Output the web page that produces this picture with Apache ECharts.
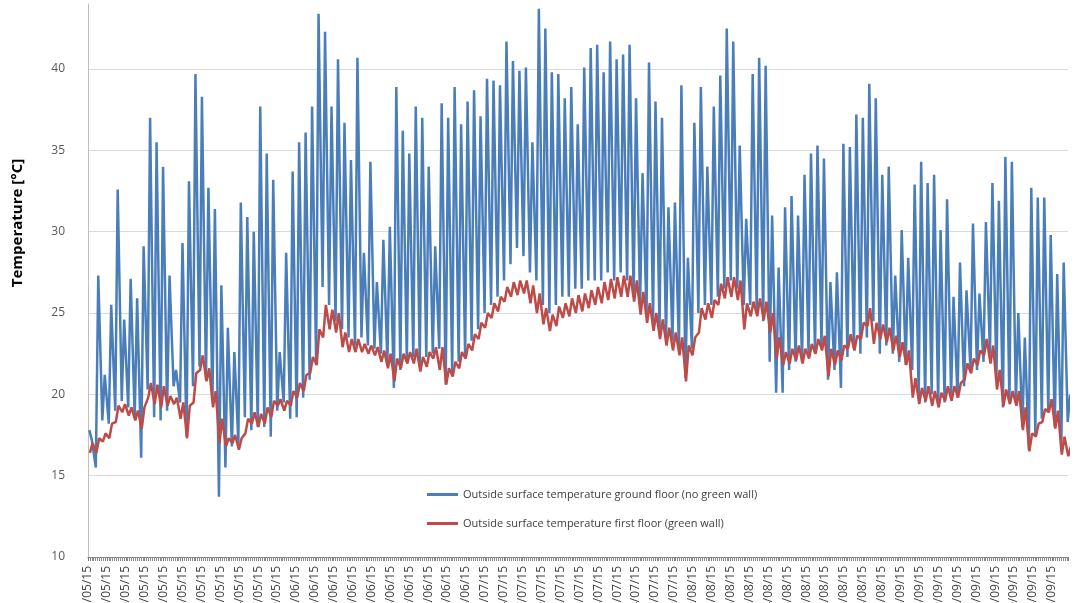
<!DOCTYPE html>
<html>
<head>
<meta charset="utf-8">
<script src="https://cdn.jsdelivr.net/npm/echarts@6/dist/echarts.min.js"></script>
<style>html,body{margin:0;padding:0;background:#fff}#c{width:1074px;height:603px}</style>
</head>
<body>
<div id="c"></div>
<script>
// Daily values, day 0 = 01/05/2015
const seriesNames = [
  'Outside surface temperature ground floor (no green wall)',
  'Outside surface temperature first floor (green wall)'
];
const blueMax = [
  17.2,27.3,21.2,25.5,32.6,24.6,27.1,25.9,29.1,37.0,
  35.5,34.0,27.3,21.5,29.3,33.1,39.7,38.3,32.7,31.4,
  26.7,24.1,22.6,31.8,30.9,30.0,37.7,34.8,33.2,22.6,
  28.7,33.7,35.5,36.1,37.7,43.4,42.3,37.7,40.6,36.7,
  34.4,40.7,28.7,34.3,26.9,29.5,30.3,38.9,36.2,34.8,
  37.7,37.0,34.0,29.1,37.9,37.0,38.9,36.6,38.0,38.7,
  37.1,39.4,39.3,39.0,41.7,40.5,39.9,40.1,35.5,43.7,
  42.5,39.8,39.7,38.2,38.9,36.6,40.1,41.3,41.5,39.8,
  41.7,40.6,40.9,41.5,38.2,33.6,40.4,38.0,37.0,31.5,
  31.8,39.0,28.4,36.7,38.9,34.0,37.7,39.6,42.5,41.7,
  35.3,30.8,39.7,40.7,40.2,31.0,27.8,31.5,32.2,31.0,
  33.5,34.8,35.3,34.5,26.9,27.5,35.4,35.2,37.2,37.0,
  39.1,38.2,33.5,34.0,27.3,30.1,28.4,32.9,34.3,33.0,
  33.5,30.1,32.0,26.0,28.1,26.4,30.5,26.2,30.6,33.0,
  31.9,34.6,34.3,25.0,23.5,32.7,32.1,32.1,29.8,27.4,
  28.1,20.0
];
const blueMin = [
  17.8,15.5,18.4,18.2,19.0,19.6,19.2,18.6,16.1,20.3,
  18.6,18.4,19.0,20.5,19.5,17.4,20.5,21.7,20.9,19.6,
  13.7,15.5,16.8,17.0,18.6,17.8,18.0,18.0,17.4,19.0,
  19.5,18.5,18.6,19.8,20.9,21.9,26.6,25.5,24.5,24.0,
  23.5,23.0,23.5,23.0,22.8,22.5,22.0,20.4,21.5,22.0,
  22.3,21.8,22.3,22.5,22.8,20.6,21.3,22.0,22.3,23.3,
  24.0,25.0,25.5,26.0,27.0,28.0,29.0,28.5,27.5,27.0,
  25.5,25.0,25.5,26.0,26.0,26.5,26.5,27.0,27.0,27.0,
  27.5,27.0,27.5,27.0,26.0,25.5,25.0,24.5,24.0,23.5,
  23.3,22.8,21.0,22.8,25.0,25.5,25.5,26.0,26.5,27.0,
  26.5,25.5,25.5,25.0,24.5,22.0,20.1,20.1,21.5,22.0,
  22.0,22.5,22.5,22.8,20.9,21.5,20.4,22.3,22.8,22.5,
  23.5,24.5,22.5,23.0,22.5,22.0,21.8,21.5,19.8,19.5,
  20.0,19.5,19.5,20.0,19.8,20.5,21.5,21.5,22.0,22.5,
  21.0,19.2,19.5,19.5,18.0,16.6,17.5,18.5,19.0,18.0,
  16.5,18.3
];
const redMax = [
  17.0,17.3,17.6,18.2,19.3,19.4,19.2,19.0,19.2,20.7,
  20.6,20.5,19.9,19.8,19.5,19.3,21.3,22.4,21.6,20.2,
  18.5,17.3,17.5,17.3,18.5,18.9,18.8,19.2,19.6,19.7,
  19.6,20.2,20.7,21.2,22.3,24.0,25.5,25.2,25.0,23.8,
  23.4,23.4,23.1,23.0,22.9,22.7,22.5,22.2,22.5,22.6,
  22.8,22.3,22.6,22.9,22.9,21.6,22.0,22.6,23.1,23.7,
  24.4,25.0,25.6,26.0,26.6,26.9,27.0,27.0,26.7,26.2,
  25.3,24.9,25.4,25.6,25.9,26.1,26.2,26.4,26.6,26.9,
  27.1,27.2,27.3,27.3,27.0,26.3,25.6,25.0,24.6,24.1,
  23.8,23.5,23.0,23.5,25.3,25.6,25.8,26.8,27.2,27.2,
  27.0,25.6,25.7,25.9,25.7,25.0,23.5,22.6,22.8,23.0,
  22.8,23.1,23.4,23.6,22.8,22.7,23.0,23.7,23.6,24.4,
  25.3,24.4,24.3,24.1,23.6,23.2,22.7,21.0,20.4,20.5,
  20.2,20.1,20.5,20.5,20.7,21.9,22.2,22.7,23.4,23.0,
  21.5,20.3,20.2,20.2,19.2,17.6,18.2,19.1,19.7,19.0,
  17.4,16.8
];
const redMin = [
  16.4,16.4,17.1,17.3,18.3,18.9,18.7,18.4,17.9,19.8,
  19.4,19.2,19.3,19.4,18.5,17.3,19.5,21.5,20.8,19.2,
  17.0,16.8,17.0,16.6,17.6,18.2,18.0,18.2,18.6,19.3,
  19.0,19.3,19.8,20.2,21.3,21.8,23.5,24.0,23.8,22.9,
  22.6,22.6,22.6,22.5,22.4,22.0,21.6,20.8,21.6,21.9,
  21.9,21.4,21.7,22.2,21.5,20.6,21.1,21.6,22.2,22.7,
  23.4,24.1,24.7,25.1,25.7,26.0,26.1,26.2,25.6,25.0,
  24.3,23.9,24.2,24.7,24.8,25.0,25.1,25.3,25.5,25.6,
  25.8,25.9,26.0,26.0,25.7,24.9,24.4,23.9,23.4,23.0,
  22.7,22.4,20.8,22.4,23.8,24.6,24.7,25.5,25.9,26.0,
  25.8,24.0,24.8,24.8,24.6,23.8,22.2,21.8,21.9,22.1,
  21.9,22.2,22.5,22.7,21.1,21.8,22.1,22.8,22.7,23.4,
  24.2,23.1,23.4,23.2,22.7,22.3,21.8,19.8,19.4,19.6,
  19.3,19.2,19.6,19.6,19.8,20.9,21.3,21.8,22.4,21.9,
  20.3,19.3,19.4,19.3,17.8,16.5,17.4,18.3,18.9,17.9,
  16.3,16.2
];
const yTicks = [10, 15, 20, 25, 30, 35, 40];

// build [hour, value] pairs (min early morning, max afternoon)
const blueData = [], redData = [];
for (let d = 0; d < blueMax.length; d++) {
  blueData.push([d * 24 + 5, blueMin[d]], [d * 24 + 14, blueMax[d]]);
  redData.push([d * 24 + 7, redMin[d]], [d * 24 + 17, redMax[d]]);
}

function fmtDate(h) {
  const t = new Date(Date.UTC(2015, 4, 1) + Math.floor(h / 24) * 86400000);
  const dd = String(t.getUTCDate()).padStart(2, '0');
  const mm = String(t.getUTCMonth() + 1).padStart(2, '0');
  return dd + '/' + mm + '/15';
}

const chart = echarts.init(document.getElementById('c'), null, {renderer: 'canvas'});
chart.setOption({
  animation: false,
  backgroundColor: '#ffffff',
  grid: {left: 88, right: 6, top: 4, bottom: 46, containLabel: false, outerBoundsMode: 'none'},
  legend: {
    orient: 'vertical', left: 422, top: 484,
    icon: 'rect', itemWidth: 31, itemHeight: 3, itemGap: 18,
    textStyle: {fontFamily: 'Open Sans', fontSize: 11, color: '#404040'},
    data: seriesNames
  },
  graphic: [{
    type: 'text', x: 18, y: 223, rotation: Math.PI / 2,
    style: {text: 'Temperature [°C]', fontFamily: 'Open Sans', fontWeight: 'bold',
            fontSize: 15, fill: '#000', align: 'center', verticalAlign: 'middle'}
  }],
  xAxis: {
    type: 'value', min: 0, max: 3630, interval: 70,
    axisLine: {show: true, lineStyle: {color: '#7f7f7f', width: 1}},
    axisTick: {show: true, length: 4, lineStyle: {color: '#7f7f7f'}},
    minorTick: {show: true, splitNumber: 10, length: 4, lineStyle: {color: '#8c8c8c'}},
    splitLine: {show: false},
    axisLabel: {
      rotate: 90, margin: 9, fontFamily: 'Open Sans', fontSize: 12, color: '#404040',
      showMaxLabel: false, formatter: fmtDate
    }
  },
  yAxis: {
    type: 'value', min: yTicks[0], max: 44, interval: 5,
    axisLine: {show: true, lineStyle: {color: '#bfbfbf'}},
    axisTick: {show: false},
    splitLine: {show: true, lineStyle: {color: ['#d9d9d9','#d9d9d9','#d9d9d9','#d9d9d9','#d9d9d9','#d9d9d9','#d9d9d9','rgba(0,0,0,0)'], width: 1}},
    axisLabel: {
      margin: 23, fontFamily: 'Open Sans', fontSize: 12, color: '#595959',
      showMaxLabel: false,
      formatter: v => (yTicks.indexOf(v) >= 0 ? String(v) : '')
    }
  },
  series: [
    {name: seriesNames[0], type: 'line', data: blueData, showSymbol: false,
     lineStyle: {color: '#4a7ebb', width: 2.5}, itemStyle: {color: '#4a7ebb'}},
    {name: seriesNames[1], type: 'line', data: redData, showSymbol: false,
     lineStyle: {color: '#be4b48', width: 2.5}, itemStyle: {color: '#be4b48'}}
  ]
});
</script>
</body>
</html>
